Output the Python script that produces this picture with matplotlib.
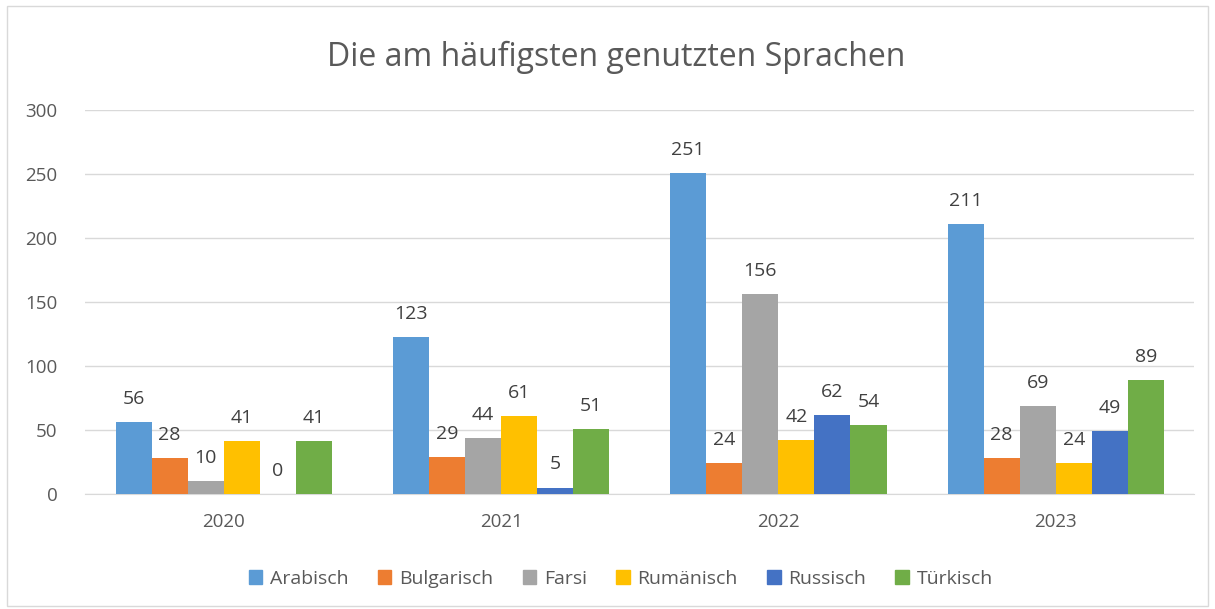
import matplotlib.pyplot as plt
import matplotlib.patches as mpatches
import numpy as np

# --- Data -------------------------------------------------------------------
years = ["2020", "2021", "2022", "2023"]
languages = ["Arabisch", "Bulgarisch", "Farsi", "Rumänisch", "Russisch", "Türkisch"]
arabisch = [56, 123, 251, 211]
bulgarisch = [28, 29, 24, 28]
farsi = [10, 44, 156, 69]
rumaenisch = [41, 61, 42, 24]
russisch = [0, 5, 62, 49]
tuerkisch = [41, 51, 54, 89]
y_ticks = [0, 50, 100, 150, 200, 250, 300]

series = [arabisch, bulgarisch, farsi, rumaenisch, russisch, tuerkisch]
colors = ["#5B9BD5", "#ED7D31", "#A5A5A5", "#FFC000", "#4472C4", "#70AD47"]
TEXT = "#595959"

plt.rcParams["font.family"] = ["Open Sans", "DejaVu Sans"]

fig = plt.figure(figsize=(12.15, 6.09), dpi=100)
ax = fig.add_axes([0.070, 0.189, 0.913, 0.630])

x = np.arange(len(years))
width = 0.13
for i, (vals, lang, col) in enumerate(zip(series, languages, colors)):
    pos = x + (i - 2.5) * width
    ax.bar(pos, vals, width=width, color=col, label=lang, zorder=3)
    for p, v in zip(pos, vals):
        ax.text(p, v + 11, str(v), ha="center", va="bottom",
                fontsize=14, color="#404040")

ax.set_xlim(-0.5, 3.5)
ax.set_ylim(0, 300)
ax.set_yticks(y_ticks)
ax.set_xticks(x)
ax.set_xticklabels(years)
ax.tick_params(axis="both", length=0, labelsize=13.5, colors=TEXT)
ax.tick_params(axis="y", pad=20)
ax.tick_params(axis="x", pad=14)
ax.yaxis.grid(True, color="#D9D9D9", linewidth=1, zorder=0)
for s in ["top", "right", "left"]:
    ax.spines[s].set_visible(False)
ax.spines["bottom"].set_color("#D9D9D9")

fig.text(0.507, 0.905, "Die am häufigsten genutzten Sprachen",
         ha="center", va="center", fontsize=23, color=TEXT)

handles = [mpatches.Patch(color=c, label=l) for c, l in zip(colors, languages)]
fig.legend(handles=handles, loc="center", bbox_to_anchor=(0.511, 0.05), ncol=6,
           frameon=False, fontsize=14, handlelength=0.7, handleheight=0.7,
           handletextpad=0.4, columnspacing=1.5, labelcolor=TEXT)

fig.patches.append(mpatches.Rectangle((0.006, 0.005), 0.988, 0.985,
                                      transform=fig.transFigure, fill=False,
                                      edgecolor="#D9D9D9", linewidth=1))

fig.savefig("out.png", dpi=100)
